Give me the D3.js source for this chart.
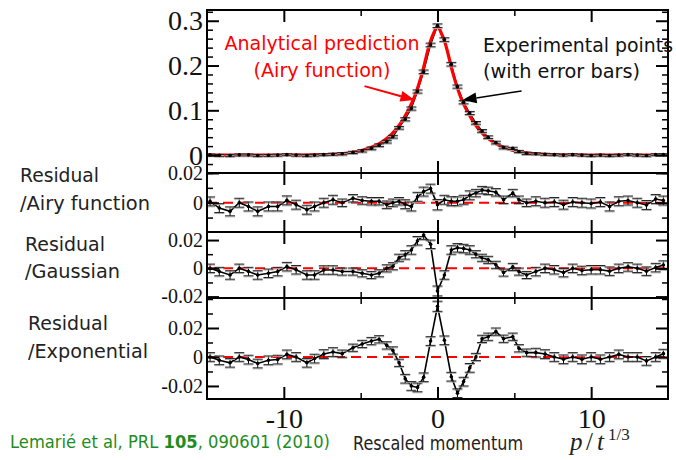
<!DOCTYPE html>
<html>
<head>
<meta charset="utf-8">
<script src="https://cdn.jsdelivr.net/npm/d3@7"></script>
<style>
body { margin: 0; background: #fff; }
svg { display: block; }
</style>
</head>
<body>
<div id="chart"></div>
<script>
// rescaled momentum of the experimental points
var xs = [-14.8, -14.2, -13.5, -12.9, -12.3, -11.7, -11.0, -10.4, -9.8, -9.2, -8.5, -8.0, -7.4, -6.8,
    -6.2, -5.5, -4.9, -4.3, -3.8, -3.3, -2.9, -2.5, -2.1, -1.7, -1.3, -0.9, -0.45, 0,
    0.45, 0.9, 1.3, 1.7, 2.1, 2.5, 2.9, 3.3, 3.8, 4.3, 4.9, 5.3, 5.8, 6.4,
    7.0, 7.6, 8.2, 8.8, 9.4, 10.0, 10.6, 11.2, 11.8, 12.4, 13.0, 13.6, 14.2, 14.7];

// momentum distribution (top panel)
var topVals = [0.0005, -0.0005, -0.001, 0.0005, 0.0005, -0.001, -0.0005, 0, 0.001, 0, -0.001, 0, 0.001, 0.002,
    0.003, 0.006, 0.0095, 0.015, 0.022, 0.03, 0.041, 0.061, 0.08, 0.104, 0.142, 0.186, 0.246, 0.289,
    0.258, 0.203, 0.153, 0.118, 0.094, 0.072, 0.054, 0.04, 0.028, 0.017, 0.015, 0.008, 0.004, 0.003,
    0.002, 0.001, 0, 0.001, 0, -0.001, 0, -0.001, 0, 0.001, 0, -0.001, 0.001, 0.001];
var topErr = [0.002, 0.002, 0.002, 0.002, 0.002, 0.002, 0.002, 0.002, 0.002, 0.002, 0.002, 0.002, 0.002, 0.002,
    0.0025, 0.0025, 0.0025, 0.003, 0.003, 0.003, 0.003, 0.003, 0.0035, 0.0035, 0.0035, 0.004, 0.004, 0.004,
    0.004, 0.004, 0.0035, 0.0035, 0.0035, 0.003, 0.003, 0.003, 0.003, 0.003, 0.0025, 0.0025, 0.0025, 0.002,
    0.002, 0.002, 0.002, 0.002, 0.002, 0.002, 0.002, 0.002, 0.002, 0.002, 0.002, 0.002, 0.002, 0.002];

// analytical prediction (Airy function)
var airyX = [-15, -10, -8, -7, -6, -5, -4.5, -4, -3.5, -3, -2.5, -2, -1.5, -1, -0.5, -0.2, 0,
    0.2, 0.5, 1, 1.5, 2, 2.5, 3, 3.5, 4, 4.5, 5, 6, 7, 8, 10, 15];
var airyY = [0, 0, 0.0006, 0.0016, 0.004, 0.0098, 0.015, 0.022, 0.032, 0.046, 0.066, 0.094, 0.13, 0.183, 0.25, 0.276, 0.288,
    0.276, 0.25, 0.183, 0.13, 0.094, 0.066, 0.046, 0.032, 0.022, 0.015, 0.0098, 0.004, 0.0016, 0.0006, 0, 0];

// residuals
var resAiry = [0.0009, -0.0036, -0.0058, 0, -0.0025, -0.0058, -0.0025, -0.0025, 0.0016, -0.0013, -0.0047, -0.0025, 0, 0.002,
    0, 0.003, 0.0015, 0.001, 0.001, -0.0013, 0, 0.001, -0.001, -0.0025, 0.004, 0.0075, 0.0095, -0.0013,
    0.002, 0.001, 0.001, 0.002, 0.005, 0.0065, 0.0085, 0.008, 0.007, 0.002, 0.0065, 0.002, 0, 0.001,
    0, 0.0005, -0.0013, 0.0005, 0, -0.0005, 0.0005, -0.0025, 0.001, 0.0015, 0, -0.0015, 0.0025, 0.0015];
var resGauss = [0, -0.0023, -0.0047, 0, -0.0023, -0.0047, -0.0035, -0.0023, 0.0012, -0.001, -0.0047, -0.0047, -0.0012, -0.0012,
    -0.0023, -0.0023, -0.0035, -0.0047, -0.0035, 0, 0.0015, 0.0075, 0.0095, 0.013, 0.0195, 0.0235, 0.017, -0.016,
    -0.0047, 0.013, 0.0145, 0.014, 0.013, 0.01, 0.0075, 0.006, 0.0025, -0.003, 0.001, -0.0023, -0.0047, -0.0023,
    0, -0.001, -0.003, 0, -0.0015, -0.001, -0.001, -0.002, 0, 0.001, 0, -0.002, 0.0005, 0.0023];
var resExp = [0, -0.0023, -0.004, 0, -0.0018, -0.0045, -0.0023, -0.0018, 0.0018, 0, -0.004, -0.0011, 0.002, 0.0034,
    0.0023, 0.0064, 0.009, 0.011, 0.0122, 0.008, 0.0045, -0.004, -0.015, -0.02, -0.021, -0.014, 0.011, 0.035,
    0.0115, -0.0136, -0.025, -0.017, -0.0075, 0, 0.0125, 0.014, 0.0175, 0.0126, 0.014, 0.006, 0.003, 0.003,
    0.002, 0, -0.0016, 0, -0.0016, 0, -0.0016, 0, 0.0018, 0, 0, -0.0027, 0, 0.0023];
var resErr = [0.003, 0.003, 0.003, 0.003, 0.003, 0.003, 0.003, 0.003, 0.003, 0.003, 0.003, 0.003, 0.003, 0.003,
    0.0025, 0.0025, 0.0025, 0.0025, 0.0025, 0.0025, 0.0025, 0.0025, 0.003, 0.003, 0.003, 0.003, 0.003, 0.0035,
    0.003, 0.003, 0.003, 0.003, 0.003, 0.0025, 0.0025, 0.0025, 0.0025, 0.0025, 0.0025, 0.0025, 0.0025, 0.003,
    0.003, 0.003, 0.003, 0.003, 0.003, 0.003, 0.003, 0.003, 0.003, 0.003, 0.003, 0.003, 0.003, 0.003];

// tick values
var xMajor = [-10, 0, 10];
var xMinor = [-5, 5];
var topTicks = [0, 0.1, 0.2, 0.3];
var resTicks = [-0.02, 0, 0.02];

var sans = "'DejaVu Sans', Verdana, sans-serif";
var serif = "'Liberation Serif', 'Times New Roman', serif";

var svg = d3.select("#chart")
    .append("svg")
    .attr("width", 676)
    .attr("height", 460);

var x = d3.scaleLinear().domain([-15, 15]).range([207, 668]);

var panels = [
    { id: "top", vals: topVals, err: topErr, domain: [-0.04, 0.324], top: 10, bottom: 173, labels: topTicks, step: 0.02, fs: 28 },
    { id: "airy", vals: resAiry, err: resErr, domain: [-0.0197, 0.02], top: 173, bottom: 232, labels: [0, 0.02], step: 0.01, fs: 20 },
    { id: "gauss", vals: resGauss, err: resErr, domain: [-0.021, 0.0257], top: 232, bottom: 298, labels: resTicks, step: 0.01, fs: 20 },
    { id: "exp", vals: resExp, err: resErr, domain: [-0.029, 0.0407], top: 298, bottom: 399, labels: resTicks, step: 0.01, fs: 20 }
];

function fmt(d) {
    return d === 0 ? "0" : String(d);
}

function styleAxis(g, sw) {
    g.select(".domain").remove();
    g.selectAll("line").attr("stroke", "#000").attr("stroke-width", sw);
}

panels.forEach(function(p) {
    var y = d3.scaleLinear().domain(p.domain).range([p.bottom, p.top]);
    var g = svg.append("g");

    g.append("clipPath").attr("id", "clip-" + p.id)
        .append("rect")
        .attr("x", x.range()[0]).attr("y", p.top)
        .attr("width", x.range()[1] - x.range()[0]).attr("height", p.bottom - p.top);

    var plot = g.append("g").attr("clip-path", "url(#clip-" + p.id + ")");
    var pts = xs.map(function(v, i) { return { x: v, y: p.vals[i], e: p.err[i] }; });

    if (p.id !== "top") {
        plot.append("line")
            .attr("x1", x(-15)).attr("x2", x(15))
            .attr("y1", y(0)).attr("y2", y(0))
            .attr("stroke", "#ff0000").attr("stroke-width", 2)
            .attr("stroke-dasharray", "10,6");
    }

    // black line through the points
    plot.append("path")
        .datum(pts)
        .attr("fill", "none")
        .attr("stroke", "#000")
        .attr("stroke-width", p.id === "top" ? 1.2 : 1.6)
        .attr("d", d3.line().x(function(d) { return x(d.x); }).y(function(d) { return y(d.y); }));

    if (p.id === "top") {
        var airy = airyX.map(function(v, i) { return { x: v, y: airyY[i] }; });
        plot.append("path")
            .datum(airy)
            .attr("fill", "none")
            .attr("stroke", "#ff0000")
            .attr("stroke-width", 3.2)
            .attr("d", d3.line().curve(d3.curveMonotoneX)
                .x(function(d) { return x(d.x); })
                .y(function(d) { return y(d.y); }));
    }

    // error bars
    var eb = plot.selectAll(".eb").data(pts).enter().append("g");
    eb.append("line")
        .attr("x1", function(d) { return x(d.x); }).attr("x2", function(d) { return x(d.x); })
        .attr("y1", function(d) { return y(d.y - d.e); }).attr("y2", function(d) { return y(d.y + d.e); })
        .attr("stroke", "#000").attr("stroke-width", 1);
    [-1, 1].forEach(function(s) {
        eb.append("line")
            .attr("x1", function(d) { return x(d.x) - 5; }).attr("x2", function(d) { return x(d.x) + 5; })
            .attr("y1", function(d) { return y(d.y + s * d.e) + 1; }).attr("y2", function(d) { return y(d.y + s * d.e) + 1; })
            .attr("stroke", "#aaa").attr("stroke-width", 1);
        eb.append("line")
            .attr("x1", function(d) { return x(d.x) - 5; }).attr("x2", function(d) { return x(d.x) + 5; })
            .attr("y1", function(d) { return y(d.y + s * d.e); }).attr("y2", function(d) { return y(d.y + s * d.e); })
            .attr("stroke", "#222").attr("stroke-width", 1);
    });
    eb.append("circle")
        .attr("cx", function(d) { return x(d.x); })
        .attr("cy", function(d) { return y(d.y); })
        .attr("r", 1.8)
        .attr("fill", "#000");

    // frame
    g.append("rect")
        .attr("x", x.range()[0]).attr("y", p.top)
        .attr("width", x.range()[1] - x.range()[0]).attr("height", p.bottom - p.top)
        .attr("fill", "none").attr("stroke", "#000").attr("stroke-width", 2);

    // y ticks (inside), labels on the left
    var minor = d3.range(Math.ceil(p.domain[0] / p.step - 1e-6), Math.floor(p.domain[1] / p.step + 1e-6) + 1)
        .map(function(k) { return +(k * p.step).toFixed(4); })
        .filter(function(v) { return p.labels.indexOf(v) < 0 && topTicks.indexOf(v) < 0; });
    var left = g.append("g").attr("transform", "translate(" + x.range()[0] + ",0)")
        .call(d3.axisLeft(y).tickValues(p.labels).tickSize(-12).tickPadding(4).tickFormat(fmt));
    styleAxis(left, 2);
    left.selectAll("text").attr("font-family", serif).attr("font-size", p.fs).attr("fill", "#111");
    styleAxis(g.append("g").attr("transform", "translate(" + x.range()[0] + ",0)")
        .call(d3.axisLeft(y).tickValues(minor).tickSize(-6).tickFormat("")), 1.5);
    styleAxis(g.append("g").attr("transform", "translate(" + x.range()[1] + ",0)")
        .call(d3.axisRight(y).tickValues(p.labels).tickSize(-12).tickFormat("")), 2);
    styleAxis(g.append("g").attr("transform", "translate(" + x.range()[1] + ",0)")
        .call(d3.axisRight(y).tickValues(minor).tickSize(-6).tickFormat("")), 1.5);

    // x ticks (inside) on top and bottom edges
    styleAxis(g.append("g").attr("transform", "translate(0," + p.top + ")")
        .call(d3.axisTop(x).tickValues(xMajor).tickSize(-12).tickFormat("")), 2);
    styleAxis(g.append("g").attr("transform", "translate(0," + p.top + ")")
        .call(d3.axisTop(x).tickValues(xMinor).tickSize(-6).tickFormat("")), 1.5);
    var bx = g.append("g").attr("transform", "translate(0," + p.bottom + ")")
        .call(d3.axisBottom(x).tickValues(xMajor).tickSize(-12).tickPadding(9)
            .tickFormat(p.id === "exp" ? fmt : ""));
    styleAxis(bx, 2);
    bx.selectAll("text").attr("font-family", serif).attr("font-size", 28).attr("fill", "#111");
    styleAxis(g.append("g").attr("transform", "translate(0," + p.bottom + ")")
        .call(d3.axisBottom(x).tickValues(xMinor).tickSize(-6).tickFormat("")), 1.5);

    p.y = y;
});

// panel captions on the left
var captions = [
    { t: "Residual", x: 20, y: 182, w: 79 },
    { t: "/Airy function", x: 20, y: 210, w: 130 },
    { t: "Residual", x: 25, y: 251, w: 80 },
    { t: "/Gaussian", x: 25, y: 278, w: 95 },
    { t: "Residual", x: 28, y: 330, w: 80 },
    { t: "/Exponential", x: 28, y: 358, w: 120 }
];
svg.selectAll(".cap").data(captions).enter().append("text")
    .attr("x", function(d) { return d.x; })
    .attr("y", function(d) { return d.y; })
    .attr("textLength", function(d) { return d.w; })
    .attr("lengthAdjust", "spacingAndGlyphs")
    .attr("font-family", sans).attr("font-size", 20).attr("fill", "#222")
    .text(function(d) { return d.t; });

// annotations in the top panel
var yTop = panels[0].y;

function arrow(x0, y0, x1, y1, color, sw) {
    var dx = x1 - x0, dy = y1 - y0, L = Math.sqrt(dx * dx + dy * dy);
    var ux = dx / L, uy = dy / L, hl = 14, hw = 5.5;
    var bx = x1 - ux * hl, by = y1 - uy * hl;
    svg.append("line").attr("x1", x0).attr("y1", y0).attr("x2", bx).attr("y2", by)
        .attr("stroke", color).attr("stroke-width", sw);
    svg.append("path")
        .attr("d", "M" + x1 + "," + y1 + "L" + (bx - uy * hw) + "," + (by + ux * hw) + "L" + (bx + uy * hw) + "," + (by - ux * hw) + "Z")
        .attr("fill", color);
}
arrow(x(-4.75), yTop(0.154), x(-1.5), yTop(0.123), "#ff0000", 2);
arrow(x(5.47), yTop(0.143), x(1.63), yTop(0.123), "#000", 1.5);

var notes = [
    { t: "Analytical prediction", x: 322, y: 50, w: 195, anchor: "middle", c: "#ff0000" },
    { t: "(Airy function)", x: 322, y: 77, w: 137, anchor: "middle", c: "#ff0000" },
    { t: "Experimental points", x: 483, y: 52, w: 190, anchor: "start", c: "#111" },
    { t: "(with error bars)", x: 483, y: 78, w: 157, anchor: "start", c: "#111" }
];
svg.selectAll(".note").data(notes).enter().append("text")
    .attr("x", function(d) { return d.x; })
    .attr("y", function(d) { return d.y; })
    .attr("text-anchor", function(d) { return d.anchor; })
    .attr("textLength", function(d) { return d.w; })
    .attr("lengthAdjust", "spacingAndGlyphs")
    .attr("font-family", sans).attr("font-size", 20).attr("fill", function(d) { return d.c; })
    .text(function(d) { return d.t; });

// x axis title
svg.append("text")
    .attr("x", 353).attr("y", 450)
    .attr("textLength", 170).attr("lengthAdjust", "spacingAndGlyphs")
    .attr("font-family", sans).attr("font-size", 19).attr("fill", "#222")
    .text("Rescaled momentum");
var math = svg.append("text").attr("y", 450).attr("font-family", serif).attr("fill", "#222");
math.append("tspan").attr("x", 570).attr("font-size", 25).attr("font-style", "italic").text("p");
math.append("tspan").attr("x", 586).attr("font-size", 25).text("/");
math.append("tspan").attr("x", 597).attr("font-size", 25).attr("font-style", "italic").text("t");
math.append("tspan").attr("x", 608).attr("dy", -10).attr("font-size", 17).text("1/3");

// citation
var cite = svg.append("text")
    .attr("x", 10).attr("y", 448)
    .attr("textLength", 320).attr("lengthAdjust", "spacingAndGlyphs")
    .attr("font-family", sans).attr("font-size", 18).attr("fill", "#1e8c1e");
cite.append("tspan").text("Lemarié et al, PRL ");
cite.append("tspan").attr("font-weight", "bold").text("105");
cite.append("tspan").text(", 090601 (2010)");
</script>
</body>
</html>
